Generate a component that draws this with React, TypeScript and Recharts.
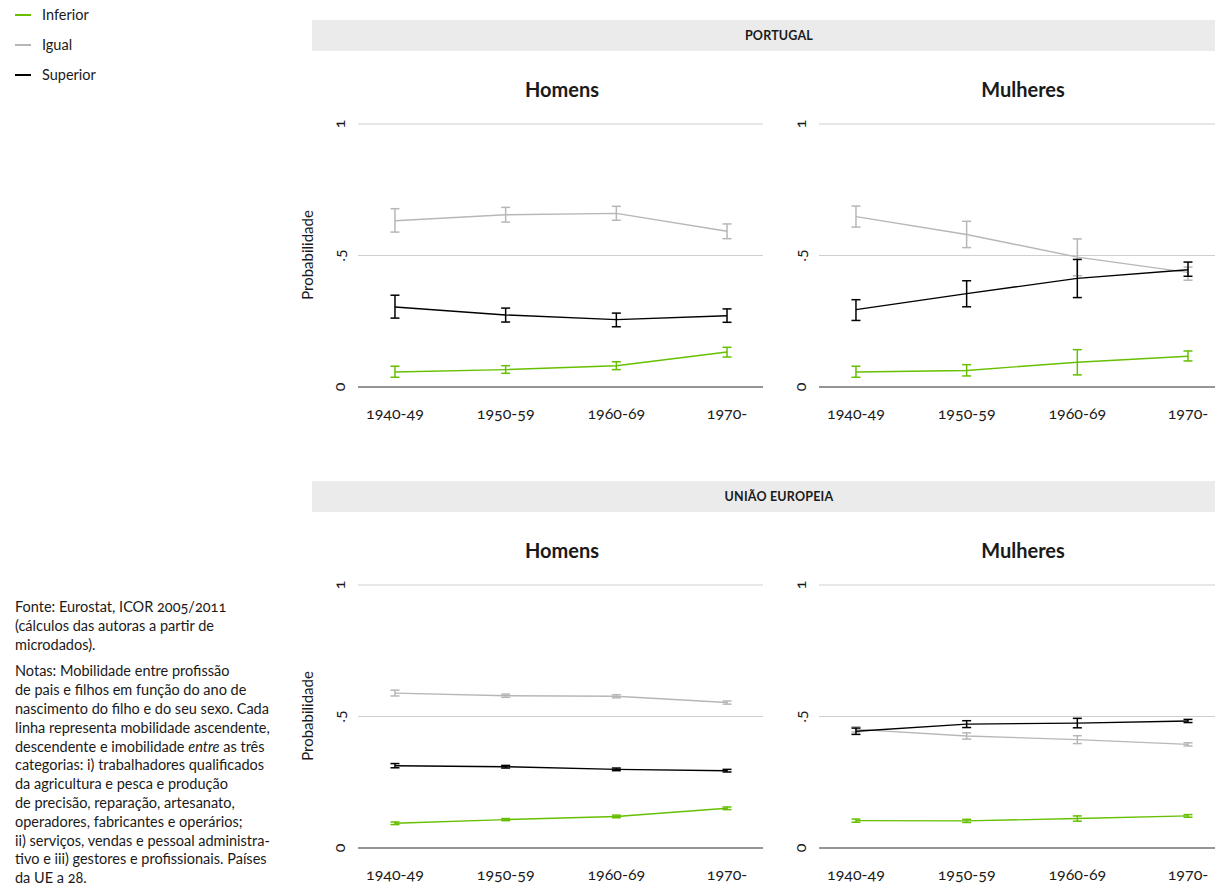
import React from 'react';
import { LineChart, Line, XAxis, YAxis, CartesianGrid, ErrorBar } from 'recharts';

const cohorts = ['1940-49', '1950-59', '1960-69', '1970-'];
const seriesNames = ['Inferior', 'Igual', 'Superior'];
const seriesColors = ['#66bf00', '#b7b7b7', '#000000'];
const yTicks = [0, 0.5, 1];
const yTickLabels = ['0', '.5', '1'];

// Portugal – Homens
const ptHomensInferior = [0.057, 0.066, 0.081, 0.133];
const ptHomensInferiorLow = [0.037, 0.052, 0.066, 0.114];
const ptHomensInferiorHigh = [0.079, 0.081, 0.096, 0.151];
const ptHomensIgual = [0.632, 0.655, 0.660, 0.592];
const ptHomensIgualLow = [0.589, 0.627, 0.634, 0.564];
const ptHomensIgualHigh = [0.678, 0.683, 0.687, 0.620];
const ptHomensSuperior = [0.304, 0.274, 0.256, 0.271];
const ptHomensSuperiorLow = [0.262, 0.247, 0.229, 0.246];
const ptHomensSuperiorHigh = [0.349, 0.300, 0.281, 0.297];

// Portugal – Mulheres
const ptMulheresInferior = [0.057, 0.063, 0.094, 0.117];
const ptMulheresInferiorLow = [0.037, 0.042, 0.046, 0.099];
const ptMulheresInferiorHigh = [0.079, 0.085, 0.142, 0.137];
const ptMulheresIgual = [0.648, 0.580, 0.494, 0.436];
const ptMulheresIgualLow = [0.608, 0.530, 0.423, 0.406];
const ptMulheresIgualHigh = [0.688, 0.630, 0.563, 0.456];
const ptMulheresSuperior = [0.294, 0.355, 0.413, 0.446];
const ptMulheresSuperiorLow = [0.253, 0.305, 0.340, 0.421];
const ptMulheresSuperiorHigh = [0.332, 0.404, 0.485, 0.475];

// União Europeia – Homens
const ueHomensInferior = [0.094, 0.108, 0.120, 0.151];
const ueHomensInferiorLow = [0.089, 0.104, 0.115, 0.146];
const ueHomensInferiorHigh = [0.099, 0.112, 0.125, 0.156];
const ueHomensIgual = [0.589, 0.579, 0.577, 0.553];
const ueHomensIgualLow = [0.578, 0.573, 0.571, 0.547];
const ueHomensIgualHigh = [0.600, 0.585, 0.583, 0.559];
const ueHomensSuperior = [0.313, 0.309, 0.299, 0.294];
const ueHomensSuperiorLow = [0.305, 0.304, 0.294, 0.289];
const ueHomensSuperiorHigh = [0.321, 0.314, 0.304, 0.299];

// União Europeia – Mulheres
const ueMulheresInferior = [0.104, 0.103, 0.112, 0.122];
const ueMulheresInferiorLow = [0.098, 0.097, 0.102, 0.117];
const ueMulheresInferiorHigh = [0.110, 0.109, 0.122, 0.127];
const ueMulheresIgual = [0.451, 0.426, 0.412, 0.394];
const ueMulheresIgualLow = [0.441, 0.414, 0.397, 0.388];
const ueMulheresIgualHigh = [0.461, 0.438, 0.427, 0.400];
const ueMulheresSuperior = [0.444, 0.471, 0.475, 0.483];
const ueMulheresSuperiorLow = [0.432, 0.458, 0.457, 0.477];
const ueMulheresSuperiorHigh = [0.456, 0.484, 0.493, 0.489];

const notesSource = [
  'Fonte: Eurostat, ICOR 2005/2011',
  '(cálculos das autoras a partir de',
  'microdados).',
];

const FONT = 'Lato, "Noto Sans", sans-serif';
const TEXT = '#1a1a1a';

type Triple = [number[], number[], number[]];

function buildRows(inf: Triple, igu: Triple, sup: Triple) {
  return cohorts.map((c, i) => ({
    i,
    cohort: c,
    inf: inf[0][i],
    infErr: [inf[0][i] - inf[1][i], inf[2][i] - inf[0][i]],
    igu: igu[0][i],
    iguErr: [igu[0][i] - igu[1][i], igu[2][i] - igu[0][i]],
    sup: sup[0][i],
    supErr: [sup[0][i] - sup[1][i], sup[2][i] - sup[0][i]],
  }));
}

const ptHomensRows = buildRows(
  [ptHomensInferior, ptHomensInferiorLow, ptHomensInferiorHigh],
  [ptHomensIgual, ptHomensIgualLow, ptHomensIgualHigh],
  [ptHomensSuperior, ptHomensSuperiorLow, ptHomensSuperiorHigh]
);
const ptMulheresRows = buildRows(
  [ptMulheresInferior, ptMulheresInferiorLow, ptMulheresInferiorHigh],
  [ptMulheresIgual, ptMulheresIgualLow, ptMulheresIgualHigh],
  [ptMulheresSuperior, ptMulheresSuperiorLow, ptMulheresSuperiorHigh]
);
const ueHomensRows = buildRows(
  [ueHomensInferior, ueHomensInferiorLow, ueHomensInferiorHigh],
  [ueHomensIgual, ueHomensIgualLow, ueHomensIgualHigh],
  [ueHomensSuperior, ueHomensSuperiorLow, ueHomensSuperiorHigh]
);
const ueMulheresRows = buildRows(
  [ueMulheresInferior, ueMulheresInferiorLow, ueMulheresInferiorHigh],
  [ueMulheresIgual, ueMulheresIgualLow, ueMulheresIgualHigh],
  [ueMulheresSuperior, ueMulheresSuperiorLow, ueMulheresSuperiorHigh]
);

const YTick = (props: any) => {
  const { x, y, payload } = props;
  const idx = yTicks.indexOf(payload.value);
  return (
    <text
      x={x}
      y={y}
      transform={`rotate(-90 ${x} ${y})`}
      textAnchor="middle"
      dominantBaseline="central"
      fontSize={16}
      fill={TEXT}
    >
      {idx >= 0 ? yTickLabels[idx] : String(payload.value)}
    </text>
  );
};

const keys = ['inf', 'igu', 'sup'];

function Panel(props: {
  rows: any[];
  left: number;
  top: number;
  width: number;
  marginLeft: number;
  marginRight: number;
  xMax: number;
}) {
  const { rows, left, top, width, marginLeft, marginRight, xMax } = props;
  return (
    <div style={{ position: 'absolute', left, top, width, height: 327 }}>
      <LineChart
        width={width}
        height={327}
        data={rows}
        margin={{ top: 24, right: marginRight, bottom: 0, left: marginLeft }}
      >
        <CartesianGrid vertical={false} stroke="#cfcfcf" strokeWidth={1.2} />
        <XAxis
          dataKey="i"
          type="number"
          domain={[-0.334, xMax]}
          allowDataOverflow
          ticks={[0, 1, 2, 3]}
          tickFormatter={(v: number) => cohorts[v] ?? ''}
          height={40}
          tickLine={false}
          tickSize={0}
          tickMargin={21}
          axisLine={{ stroke: '#7a7a7a', strokeWidth: 1.6 }}
          tick={{ fontSize: 16, fill: TEXT }}
        />
        <YAxis
          type="number"
          domain={[0, 1]}
          ticks={yTicks}
          width={40}
          axisLine={false}
          tickLine={false}
          tickSize={0}
          tickMargin={20}
          tick={<YTick />}
        />
        {keys.map((k, si) => (
          <Line
            key={k}
            type="linear"
            dataKey={k}
            name={seriesNames[si]}
            stroke={seriesColors[si]}
            strokeWidth={1.4}
            dot={false}
            activeDot={false}
            isAnimationActive={false}
          >
            <ErrorBar
              dataKey={k + 'Err'}
              width={4.5}
              stroke={seriesColors[si]}
              strokeWidth={1.5}
              direction="y"
              isAnimationActive={false}
            />
          </Line>
        ))}
      </LineChart>
    </div>
  );
}

function Band(props: { top: number; label: string }) {
  return (
    <>
      <div
        style={{
          position: 'absolute',
          left: 312,
          top: props.top,
          width: 903,
          height: 31,
          background: '#ebebeb',
        }}
      />
      <div
        style={{
          position: 'absolute',
          left: 629,
          top: props.top,
          width: 300,
          height: 31,
          lineHeight: '31px',
          textAlign: 'center',
          fontSize: 12.5,
          fontWeight: 700,
          letterSpacing: 0.2,
          color: TEXT,
        }}
      >
        {props.label}
      </div>
    </>
  );
}

function Title(props: { cx: number; cy: number; label: string }) {
  return (
    <div
      style={{
        position: 'absolute',
        left: props.cx - 100,
        top: props.cy - 13,
        width: 200,
        height: 26,
        lineHeight: '26px',
        textAlign: 'center',
        fontSize: 20,
        fontWeight: 700,
        color: TEXT,
      }}
    >
      {props.label}
    </div>
  );
}

function YLabel(props: { cy: number }) {
  return (
    <div
      style={{
        position: 'absolute',
        left: 307 - 100,
        top: props.cy - 10,
        width: 200,
        height: 20,
        lineHeight: '20px',
        textAlign: 'center',
        fontSize: 15,
        color: TEXT,
        transform: 'rotate(-90deg)',
      }}
    >
      Probabilidade
    </div>
  );
}

export default function App() {
  return (
    <div
      style={{
        position: 'absolute',
        left: 0,
        top: 0,
        width: 1215,
        height: 889,
        background: '#ffffff',
        overflow: 'hidden',
        fontFamily: FONT,
        fontVariantNumeric: 'oldstyle-nums',
        color: TEXT,
      }}
    >
      {/* Legend */}
      {seriesNames.map((n, i) => (
        <React.Fragment key={n}>
          <div
            style={{
              position: 'absolute',
              left: 15,
              top: 14 + i * 30,
              width: 16,
              height: 1.5,
              background: seriesColors[i],
            }}
          />
          <div
            style={{
              position: 'absolute',
              left: 42,
              top: 5 + i * 30,
              height: 20,
              lineHeight: '20px',
              fontSize: 14.5,
              whiteSpace: 'nowrap',
            }}
          >
            {n}
          </div>
        </React.Fragment>
      ))}

      {/* Notes */}
      <div
        style={{
          position: 'absolute',
          left: 15,
          top: 598,
          width: 285,
          fontSize: 14.5,
          lineHeight: '18.8px',
          whiteSpace: 'nowrap',
        }}
      >
        {notesSource.map((l) => (
          <div key={l}>{l}</div>
        ))}
        <div style={{ height: 8 }} />
        <div>Notas: Mobilidade entre profissão</div>
        <div>de pais e filhos em função do ano de</div>
        <div>nascimento do filho e do seu sexo. Cada</div>
        <div>linha representa mobilidade ascendente,</div>
        <div>
          descendente e imobilidade <i>entre</i> as três
        </div>
        <div>categorias: i) trabalhadores qualificados</div>
        <div>da agricultura e pesca e produção</div>
        <div>de precisão, reparação, artesanato,</div>
        <div>operadores, fabricantes e operários;</div>
        <div>ii) serviços, vendas e pessoal administra-</div>
        <div>tivo e iii) gestores e profissionais. Países</div>
        <div>da UE a 28.</div>
      </div>

      <Band top={20} label="PORTUGAL" />
      <Band top={481} label="UNIÃO EUROPEIA" />

      <Title cx={562} cy={89} label="Homens" />
      <Title cx={1023} cy={89} label="Mulheres" />
      <Title cx={562} cy={550} label="Homens" />
      <Title cx={1023} cy={550} label="Mulheres" />

      <YLabel cy={255} />
      <YLabel cy={716} />

      <Panel rows={ptHomensRows} left={300} top={100} width={470} marginLeft={18} marginRight={7} xMax={3.325} />
      <Panel rows={ptMulheresRows} left={760} top={100} width={455} marginLeft={19} marginRight={0} xMax={3.244} />
      <Panel rows={ueHomensRows} left={300} top={561} width={470} marginLeft={18} marginRight={7} xMax={3.325} />
      <Panel rows={ueMulheresRows} left={760} top={561} width={455} marginLeft={19} marginRight={0} xMax={3.244} />
    </div>
  );
}
